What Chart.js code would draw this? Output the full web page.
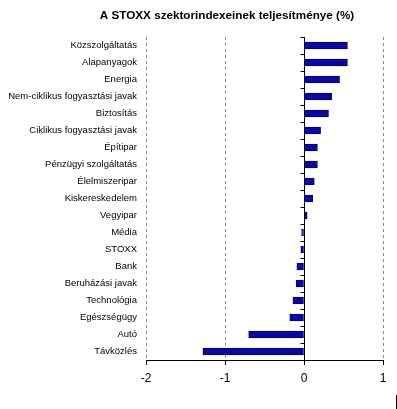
<!DOCTYPE html>
<html>
<head>
<meta charset="utf-8">
<script src="https://cdn.jsdelivr.net/npm/chart.js@4/dist/chart.umd.min.js"></script>
<style>
  body { margin: 0; background: #fff; }
  #wrap { width: 397px; height: 409px; }
</style>
</head>
<body>
<div id="wrap"><canvas id="sectorChart" width="397" height="409"></canvas></div>
<script>
// sectors, top to bottom
const sectors = [
    'Közszolgáltatás', 'Alapanyagok', 'Energia', 'Nem-ciklikus fogyasztási javak',
    'Biztosítás', 'Ciklikus fogyasztási javak', 'Építipar', 'Pénzügyi szolgáltatás',
    'Élelmiszeripar', 'Kiskereskedelem', 'Vegyipar', 'Média', 'STOXX', 'Bank',
    'Beruházási javak', 'Technológia', 'Egészségügy', 'Autó', 'Távközlés'
];
// performance, %
const performance = [
    0.55, 0.55, 0.45, 0.35, 0.31, 0.21, 0.17, 0.17, 0.13, 0.11,
    0.04, -0.03, -0.04, -0.09, -0.10, -0.14, -0.18, -0.70, -1.28
];
const xTicks = [-2, -1, 0, 1];
const chartTitle = 'A STOXX szektorindexeinek teljesítménye (%)';

// axis lines, zero line with category ticks, title
const decorPlugin = {
    id: 'decor',
    afterDraw(chart) {
        const { ctx, chartArea: a, scales } = chart;
        const x0 = Math.round(scales.x.getPixelForValue(0)) + 0.5;
        ctx.save();
        ctx.strokeStyle = '#000';
        ctx.lineWidth = 1;
        ctx.beginPath();
        // bottom axis
        ctx.moveTo(a.left, Math.round(a.bottom) + 0.5);
        ctx.lineTo(a.right, Math.round(a.bottom) + 0.5);
        // zero line
        ctx.moveTo(x0, a.top);
        ctx.lineTo(x0, a.bottom);
        // category ticks on zero line
        const band = (a.bottom - a.top) / sectors.length;
        for (let i = 0; i < sectors.length; i++) {
            const y = Math.round(a.top + i * band) + 0.5;
            ctx.moveTo(x0 - 4, y);
            ctx.lineTo(x0, y);
        }
        // stray mark bottom right
        ctx.moveTo(396.5, 395);
        ctx.lineTo(396.5, 409);
        ctx.stroke();

        ctx.fillStyle = '#000';
        ctx.font = 'bold 11.7px "Liberation Sans", Arial, sans-serif';
        ctx.textAlign = 'center';
        ctx.textBaseline = 'middle';
        ctx.fillText(chartTitle, 227, 16);
        ctx.restore();
    }
};

const ctx = document.getElementById('sectorChart').getContext('2d');
new Chart(ctx, {
    type: 'bar',
    data: {
        labels: sectors,
        datasets: [{
            data: performance,
            backgroundColor: '#0a0a9c',
            borderColor: '#000070',
            borderWidth: 1,
            borderSkipped: false,
            barThickness: 7
        }]
    },
    options: {
        indexAxis: 'y',
        responsive: false,
        animation: false,
        layout: { padding: { top: 37, right: 14, left: 0, bottom: 0 } },
        plugins: {
            legend: { display: false },
            tooltip: { enabled: false }
        },
        scales: {
            x: {
                min: -2,
                max: 1,
                afterBuildTicks: (scale) => { scale.ticks = xTicks.map(v => ({ value: v })); },
                afterFit: (scale) => { scale.height = 49; },
                border: { display: false, dash: [3, 3] },
                grid: {
                    color: (c) => (c.tick && c.tick.value === 0) ? 'rgba(0,0,0,0)' : '#8a8a8a',
                    tickColor: '#000',
                    tickBorderDash: [],
                    tickLength: 5
                },
                ticks: {
                    color: '#000',
                    padding: 6,
                    font: { family: '"Liberation Sans", Arial, sans-serif', size: 12 }
                }
            },
            y: {
                afterFit: (scale) => { scale.width = 146; },
                border: { display: false },
                grid: { display: false, drawTicks: false, tickLength: 0 },
                ticks: {
                    color: '#000',
                    padding: 9,
                    autoSkip: false,
                    font: { family: '"Liberation Sans", Arial, sans-serif', size: 9.5 }
                }
            }
        }
    },
    plugins: [decorPlugin]
});
</script>
</body>
</html>
